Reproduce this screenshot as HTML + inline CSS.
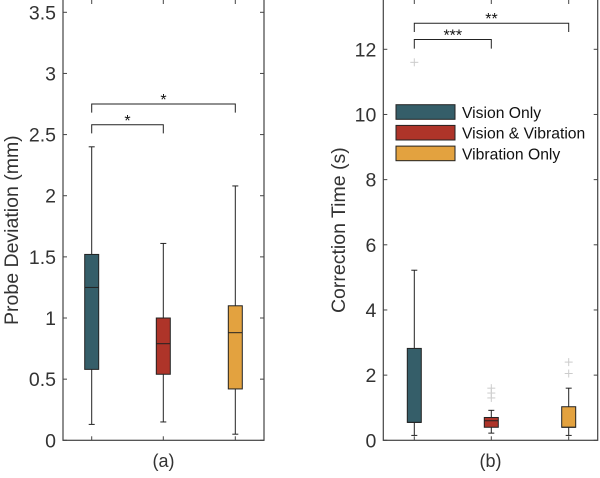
<!DOCTYPE html>
<html><head><meta charset="utf-8"><style>
body{margin:0;background:#fff}
text{font-family:"Liberation Sans",sans-serif;fill:#333}
</style></head><body>
<svg id="c" width="600" height="473" xmlns="http://www.w3.org/2000/svg"></svg>
<script>
const groups=["Vision Only","Vision & Vibration","Vibration Only"];
const colors=["#355e69","#ae3429","#e3a23f"];
// [min,q1,median,q3,max]
const devStats=[[0.13,0.58,1.25,1.52,2.4],[0.15,0.54,0.79,1.0,1.61],[0.05,0.42,0.88,1.1,2.08]];
const devOutliers=[[],[],[]];
const timeStats=[[0.15,0.55,0.55,2.82,5.22],[0.22,0.4,0.6,0.7,0.92],[0.15,0.4,0.4,1.03,1.6]];
const timeOutliers=[[11.6],[1.3,1.45,1.6],[2.05,2.4]];
const devTicks=[0,0.5,1,1.5,2,2.5,3,3.5];
const timeTicks=[0,2,4,6,8,10,12];
const devSig=[{a:0,b:2,y:2.75,d:0.07,t:"*"},{a:0,b:1,y:2.58,d:0.07,t:"*"}];
const timeSig=[{a:0,b:2,y:12.8,d:0.27,t:"**"},{a:0,b:1,y:12.3,d:0.28,t:"***"}];
const NS="http://www.w3.org/2000/svg";
const svg=document.getElementById('c');
function el(t,a,p){const e=document.createElementNS(NS,t);for(const k in a)e.setAttribute(k,a[k]);(p||svg).appendChild(e);return e;}
function panel(o){
  const g=el('g',{});
  
  
  const y=v=>o.y0+(v)*(o.y1-o.y0)/o.vmax;
  const x=i=>o.cx[i];
  el('rect',{x:o.l,y:-2,width:o.r-o.l,height:o.y0+2,fill:'none',stroke:'#444','stroke-width':1.2},g);
  o.ticks.forEach(t=>{
    el('line',{x1:o.l,x2:o.l+4,y1:y(t),y2:y(t),stroke:'#444'},g);
    el('line',{x1:o.r-4,x2:o.r,y1:y(t),y2:y(t),stroke:'#444'},g);
    const tx=el('text',{x:o.l-7,y:y(t)+7,'text-anchor':'end','font-size':19.5},g);tx.textContent=t;
    
    
  });
  o.cx.forEach(c=>{el('line',{x1:c,x2:c,y1:o.y0,y2:o.y0-4,stroke:'#444'},g);el('line',{x1:c,x2:c,y1:0,y2:4,stroke:'#444'},g);});
  o.stats.forEach((s,i)=>{
    const bg=el('g',{},g);
    
    
    const c=x(i),w=7;
    el('line',{x1:c,x2:c,y1:y(s[0]),y2:y(s[1]),stroke:'#222','stroke-width':1},bg);
    el('line',{x1:c,x2:c,y1:y(s[3]),y2:y(s[4]),stroke:'#222','stroke-width':1},bg);
    el('line',{x1:c-3,x2:c+3,y1:y(s[0]),y2:y(s[0]),stroke:'#222'},bg);
    el('line',{x1:c-3,x2:c+3,y1:y(s[4]),y2:y(s[4]),stroke:'#222'},bg);
    el('rect',{x:c-w,y:y(s[3]),width:2*w,height:y(s[1])-y(s[3]),fill:colors[i],stroke:'#222','stroke-width':1},bg);
    el('line',{x1:c-w,x2:c+w,y1:y(s[2]),y2:y(s[2]),stroke:'#222'},bg);
    o.out[i].forEach(v=>{
      el('line',{x1:c-4,x2:c+4,y1:y(v),y2:y(v),stroke:'#ccc'},bg);
      el('line',{x1:c,x2:c,y1:y(v)-4,y2:y(v)+4,stroke:'#ccc'},bg);
    });
  });
  o.sig.forEach(s=>{
    const sg=el('g',{},g);
    
    
    el('polyline',{points:`${x(s.a)},${y(s.y-s.d)} ${x(s.a)},${y(s.y)} ${x(s.b)},${y(s.y)} ${x(s.b)},${y(s.y-s.d)}`,fill:'none',stroke:'#222'},sg);
    const t=el('text',{x:(x(s.a)+x(s.b))/2,y:y(s.y)+1,'text-anchor':'middle','font-size':16,style:'fill:#111'},sg);t.textContent=s.t;
  });
  const yl=el('text',{x:0,y:0,transform:`translate(${o.yl},${o.y0/2+10}) rotate(-90)`,'text-anchor':'middle','font-size':19.5},g);yl.textContent=o.ylab;
  
  
  const xl=el('text',{x:(o.l+o.r)/2,y:467,'text-anchor':'middle','font-size':18},g);xl.textContent=o.xlab;
  
  
}
panel({name:'panel-a',l:63,r:264,y0:440.3,y1:12.3,vmax:3.5,cx:[91.7,163.3,235.3],stats:devStats,out:devOutliers,ticks:devTicks,sig:devSig,ylab:'Probe Deviation (mm)',xlab:'(a)',yl:18});
panel({name:'panel-b',l:383.3,r:597.7,y0:440.3,y1:49.3,vmax:12,cx:[414.3,491.3,568.7],stats:timeStats,out:timeOutliers,ticks:timeTicks,sig:timeSig,ylab:'Correction Time (s)',xlab:'(b)',yl:345});
const lg=el('g',{});


groups.forEach((n,i)=>{
  const it=el('g',{},lg);
  
  
  el('rect',{x:396,y:104.7+i*20.7,width:59,height:14.6,fill:colors[i],stroke:'#222'},it);
  const t=el('text',{x:462,y:118+i*20.7,'font-size':15.7,style:'fill:#111'},it);t.textContent=n;
});
</script>
</body></html>
